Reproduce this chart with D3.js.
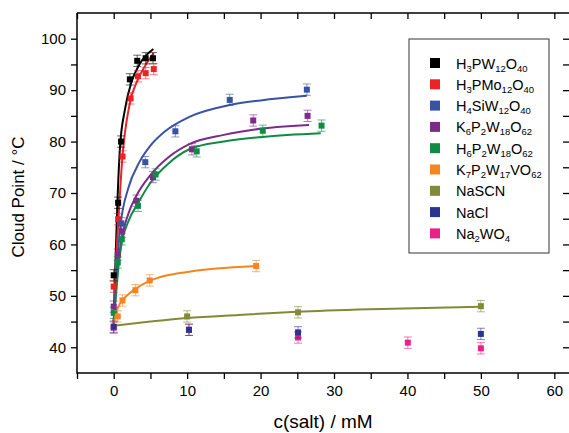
<!DOCTYPE html>
<html><head><meta charset="utf-8">
<script src="https://cdn.jsdelivr.net/npm/d3@7"></script>
<style>body{margin:0;background:#fff}svg{display:block;font-family:"Liberation Sans",Arial,sans-serif}</style>
</head><body><svg id="c" width="569" height="433"></svg>
<script>
// ---- data ----
const xTicks = [0, 10, 20, 30, 40, 50, 60];
const yTicks = [40, 50, 60, 70, 80, 90, 100];
const seriesNames = ["H3PW12O40","H3PMo12O40","H4SiW12O40","K6P2W18O62","H6P2W18O62","K7P2W17VO62","NaSCN","NaCl","Na2WO4"];
// legend label parts: [text, isSubscript]
const legendLabels = [
  [["H",0],["3",1],["PW",0],["12",1],["O",0],["40",1]],
  [["H",0],["3",1],["PMo",0],["12",1],["O",0],["40",1]],
  [["H",0],["4",1],["SiW",0],["12",1],["O",0],["40",1]],
  [["K",0],["6",1],["P",0],["2",1],["W",0],["18",1],["O",0],["62",1]],
  [["H",0],["6",1],["P",0],["2",1],["W",0],["18",1],["O",0],["62",1]],
  [["K",0],["7",1],["P",0],["2",1],["W",0],["17",1],["VO",0],["62",1]],
  [["NaSCN",0]],
  [["NaCl",0]],
  [["Na",0],["2",1],["WO",0],["4",1]]
];
const colors = ["#000000","#ec2227","#3953a4","#7d2a8c","#0f8b45","#f6851f","#818a35","#2b3590","#ea2189"];
// measured points [x, y]
const ptsH3PW  = [[0,54],[0.6,68.1],[1.0,80],[2.2,92.1],[3.2,95.7],[4.35,96.2],[5.35,96.2]];
const ptsH3PMo = [[0,51.8],[0.6,64.9],[1.2,77.1],[2.3,88.4],[3.3,92.7],[4.35,93.3],[5.45,94.1]];
const ptsH4SiW = [[1.05,64.1],[4.3,76],[8.4,82],[15.8,88.1],[26.3,90.1]];
const ptsK6P2W = [[0,47.9],[0.55,58],[1.1,62.5],[3.1,68.5],[5.35,73.1],[10.65,78.5],[19,84.1],[26.4,85]];
const ptsH6P2W = [[0,46.7],[0.55,56.5],[1.1,61],[3.3,67.5],[5.7,73.6],[11.3,78.1],[20.3,82.1],[28.3,83.1]];
const ptsK7P2W = [[0.55,46],[1.2,49.1],[2.95,51.1],[4.9,53],[19.4,55.8]];
const ptsNaSCN = [[10,46],[25.1,46.8],[50,48]];
const ptsNaCl  = [[0,44],[10.25,43.4],[25.1,42.9],[50,42.6]];
const ptsNa2WO = [[0,43.8],[10.25,43.4],[25.1,41.9],[40.05,40.9],[50,39.8]];
// fitted curves
const fitH3PW  = [[0,44.5],[0.1,50],[0.23,56],[0.5,68],[0.86,79],[1.5,86],[2.4,91.5],[3.5,95],[5.4,98]];
const fitH3PMo = [[0,44.5],[0.2,52],[0.4,59],[0.67,65.5],[1.13,76],[2.2,87.5],[3.2,91.8],[4.3,94.8],[5.45,97.2]];
const fitH4SiW = [[0,45],[0.3,53],[0.6,59],[0.95,64],[2,71],[3.5,76],[5,79.2],[7,82],[10.3,84.8],[15.8,87.1],[20,88],[26.3,88.9]];
const fitK6P2W = [[0,45],[0.3,51],[0.6,56],[1,60.5],[2,66],[3.1,69.5],[5,73.5],[7.5,77],[10.3,79.5],[15,81.3],[19,82.3],[26.6,83.2]];
const fitH6P2W = [[0,45],[0.3,50],[0.6,55],[1,59.5],[2,64.5],[3.3,68],[5,72],[7.5,75.8],[10.3,78.5],[15,80],[20.3,80.9],[28.2,81.6]];
const fitK7P2W = [[0,44.5],[0.3,46.5],[0.6,47.8],[1.1,49],[2,50.3],[2.9,51.3],[4.9,52.9],[7,53.9],[10.3,54.7],[14,55.3],[19.4,55.8]];
const fitNaSCN = [[0,44.2],[5,45],[10,45.7],[17,46.3],[25,46.9],[35,47.4],[50,47.9]];
const errBar = 1.1;

const points = [ptsH3PW, ptsH3PMo, ptsH4SiW, ptsK6P2W, ptsH6P2W, ptsK7P2W, ptsNaSCN, ptsNa2WO, ptsNaCl];
const pointColorIdx = [0,1,2,3,4,5,6,8,7];
const fits = [fitH3PW, fitH3PMo, fitH4SiW, fitK6P2W, fitH6P2W, fitK7P2W, fitNaSCN];

// ---- chart ----
const svg = d3.select("#c");
const L = 77, R = 569, T = 13, B = 373;
const x = d3.scaleLinear().domain([-5, 62]).range([L, R]);
const y = d3.scaleLinear().domain([35, 105]).range([B, T]);

const minorX = d3.range(-5, 61, 5);
const minorY = d3.range(35, 106, 5);

// axes
const gB = svg.append("g").attr("transform", `translate(0,${B})`)
  .call(d3.axisBottom(x).tickValues(minorX).tickSize(6).tickFormat(d => xTicks.includes(d) ? d : ""));
const gT = svg.append("g").attr("transform", `translate(0,${T})`)
  .call(d3.axisBottom(x).tickValues(minorX).tickSize(6).tickFormat(""));
const gL = svg.append("g").attr("transform", `translate(${L},0)`)
  .call(d3.axisLeft(y).tickValues(minorY.filter(v => v > 35 && v < 105)).tickSize(6).tickFormat(d => yTicks.includes(d) ? d : ""));
const gR = svg.append("g").attr("transform", `translate(${R},0)`)
  .call(d3.axisLeft(y).tickValues(minorY.filter(v => v > 35 && v < 105)).tickSize(6).tickFormat(""));
[gB, gT, gL, gR].forEach(g => {
  g.select(".domain").remove();
  g.selectAll("line").attr("stroke", "#000").attr("stroke-width", 1.3);
  g.selectAll("text").attr("fill", "#000").style("font-size", "15px").style("font-family", '"Liberation Sans",Arial,sans-serif');
});
gB.selectAll("text").attr("dy", "0.9em").attr("y", 9);
gL.selectAll("text").attr("x", -11);
// frame
svg.append("path").attr("d", `M${L},${T}H${R}M${L},${T}V${B}H${R}`)
  .attr("fill", "none").attr("stroke", "#000").attr("stroke-width", 1.5);

// clip
svg.append("clipPath").attr("id", "clip").append("rect").attr("x", L).attr("y", T).attr("width", R - L).attr("height", B - T);
const plot = svg.append("g").attr("clip-path", "url(#clip)");

// fit curves
const line = d3.line().x(d => x(d[0])).y(d => y(d[1])).curve(d3.curveMonotoneX);
fits.forEach((f, i) => {
  plot.append("path").attr("d", line(f)).attr("fill", "none")
    .attr("stroke", colors[i]).attr("stroke-width", 2);
});

// points with error bars
points.forEach((pts, k) => {
  const c = colors[pointColorIdx[k]];
  const g = plot.append("g");
  pts.forEach(p => {
    const px = x(p[0]), py = y(p[1]), y1 = y(p[1] + errBar), y2 = y(p[1] - errBar);
    g.append("path").attr("d", `M${px},${y1}V${y2}M${px - 4},${y1}H${px + 4}M${px - 4},${y2}H${px + 4}`)
      .attr("stroke", c).attr("stroke-opacity", 0.6).attr("stroke-width", 1).attr("fill", "none");
    g.append("rect").attr("x", px - 3).attr("y", py - 3).attr("width", 6).attr("height", 6).attr("fill", c);
  });
});

// legend
const lg = svg.append("g");
lg.append("rect").attr("x", 409).attr("y", 39).attr("width", 140).attr("height", 214)
  .attr("fill", "#fff").attr("stroke", "#555").attr("stroke-width", 1.2);
legendLabels.forEach((parts, i) => {
  const cy = 63 + i * 21.3;
  lg.append("rect").attr("x", 430).attr("y", cy - 5).attr("width", 10).attr("height", 10).attr("fill", colors[i]);
  const t = lg.append("text").attr("x", 456).attr("y", cy + 5.5).style("font-size", "14.5px").attr("fill", "#000");
  let shift = 0;
  parts.forEach(([s, sub]) => {
    const dy = sub ? 3 - shift : -shift;
    shift = sub ? 3 : 0;
    const ts = t.append("tspan").text(s).attr("dy", dy);
    if (sub) ts.style("font-size", "9.5px");
  });
});

// axis titles
svg.append("text").attr("x", 323).attr("y", 428).attr("text-anchor", "middle")
  .style("font-size", "19px").text("c(salt) / mM");
svg.append("text").attr("transform", "translate(24,197) rotate(-90)").attr("text-anchor", "middle")
  .style("font-size", "17px").text("Cloud Point / °C");
</script></body></html>
